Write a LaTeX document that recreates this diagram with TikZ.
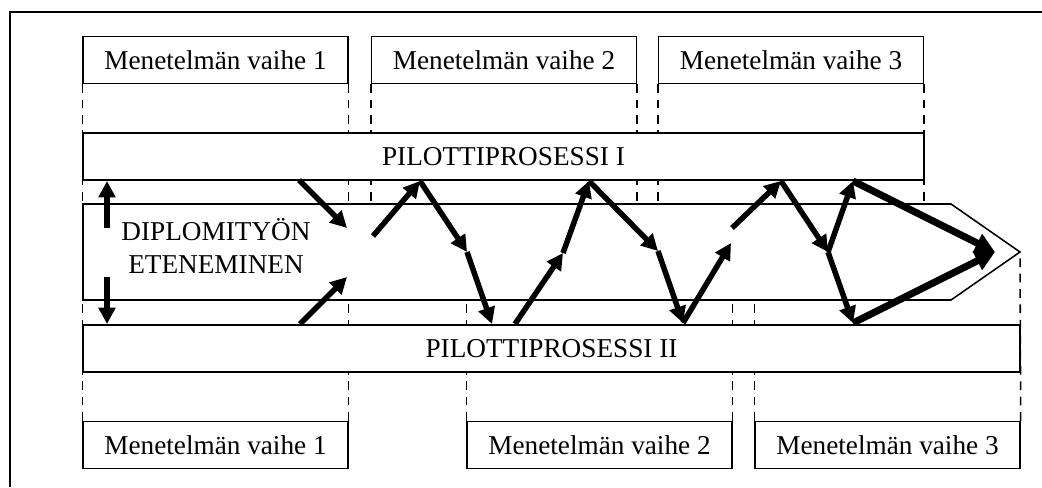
\documentclass[tikz,border=0pt]{standalone}
\usepackage{fontspec}
\setmainfont{Liberation Serif}
\usetikzlibrary{arrows.meta,backgrounds}
\begin{document}
\begin{tikzpicture}[x=0.016cm, y=-0.016cm,
  every node/.style={font=\fontsize{12.4}{15}\selectfont},
  box/.style={draw, line width=0.7pt, fill=white, inner sep=0pt, minimum height=0.75cm},
  phase/.style={box, minimum width=4.24cm},
  guide/.style={line width=0.7pt, dash pattern=on 4pt off 3pt},
  flow/.style={line width=2.5pt, -{Triangle[length=7.5pt,width=7.5pt]}},
  bigflow/.style={line width=3.2pt, -{Triangle[length=9pt,width=9pt]}}
]
\useasboundingbox (0,0) rectangle (1042,487);

% frame
\draw[line width=1pt] (1042,12) -- (10,12) -- (10,487);

% levels of the progress arrow body
\coordinate (bodyT) at (0,204);
\coordinate (bodyB) at (0,300);
\coordinate (tip) at (1020,252);

% phase boxes
\node[phase] (t1) at (215.5,60)  {Menetelmän vaihe 1};
\node[phase] (t2) at (504,60)    {Menetelmän vaihe 2};
\node[phase] (t3) at (791,60)    {Menetelmän vaihe 3};
\node[phase] (b1) at (215.5,445) {Menetelmän vaihe 1};
\node[phase] (b2) at (599.5,445) {Menetelmän vaihe 2};
\node[phase] (b3) at (887.5,445) {Menetelmän vaihe 3};

% pilot process bands
\node[box, minimum width=13.456cm] (p1) at (503.5,156.5) {PILOTTIPROSESSI I};
\node[box, minimum width=14.992cm] (p2) at (551.5,348.5) {PILOTTIPROSESSI II};

% progress arrow body
\draw[line width=0.7pt, fill=white]
  (83,204) -- (951,204) -- (tip) -- (951,300) -- (83,300) -- cycle;
\node[align=center] (prog) at (216,246) {DIPLOMITYÖN\\ETENEMINEN};

% dashed phase boundaries, behind the bands
\begin{scope}[on background layer]
\foreach \n in {t1,t2,t3}{
  \draw[guide] (\n.south west) -- (\n.south west |- bodyT);
  \draw[guide] (\n.south east) -- (\n.south east |- bodyT);
}
\foreach \n in {b1,b2}{
  \draw[guide] (\n.north west) -- (\n.north west |- bodyB);
  \draw[guide] (\n.north east) -- (\n.north east |- bodyB);
}
\draw[guide] (b3.north west) -- (b3.north west |- bodyB);
\draw[guide] (b3.north east) -- (tip);
\end{scope}

% zigzag points
\coordinate (u1) at (107,228); \coordinate (u2) at (107,181);
\coordinate (d1) at (107,277); \coordinate (d2) at (107,324);
\coordinate (s1) at (299,180); \coordinate (e1) at (347,228);
\coordinate (s2) at (300,324); \coordinate (e2) at (347,277);
\coordinate (s3) at (373,236);
\coordinate (a) at (420,181);
\coordinate (b) at (467,252);
\coordinate (c) at (492,324);
\coordinate (d) at (515,324);
\coordinate (e) at (563,253);
\coordinate (f) at (589,181);
\coordinate (g) at (658,251);
\coordinate (h) at (683,323);
\coordinate (i) at (731,243);
\coordinate (j) at (732,228);
\coordinate (k) at (781,181);
\coordinate (m) at (828,252);
\coordinate (n) at (853,181);
\coordinate (o) at (853,323);
\coordinate (z) at (995,252);

% progress arrows
\draw[flow] (u1) -- (u2);
\draw[flow] (d1) -- (d2);
\draw[flow] (s1) -- (e1);
\draw[flow] (s2) -- (e2);
\draw[flow] (s3) -- (a);
\draw[flow] (a) -- (b);
\draw[flow] (b) -- (c);
\draw[flow] (d) -- (e);
\draw[flow] (e) -- (f);
\draw[flow] (f) -- (g);
\draw[flow] (g) -- (h);
\draw[flow] (h) -- (i);
\draw[flow] (j) -- (k);
\draw[flow] (k) -- (m);
\draw[flow] (m) -- (n);
\draw[flow] (m) -- (o);
\draw[bigflow] (n) -- (z);
\draw[bigflow] (o) -- (z);
\end{tikzpicture}
\end{document}
